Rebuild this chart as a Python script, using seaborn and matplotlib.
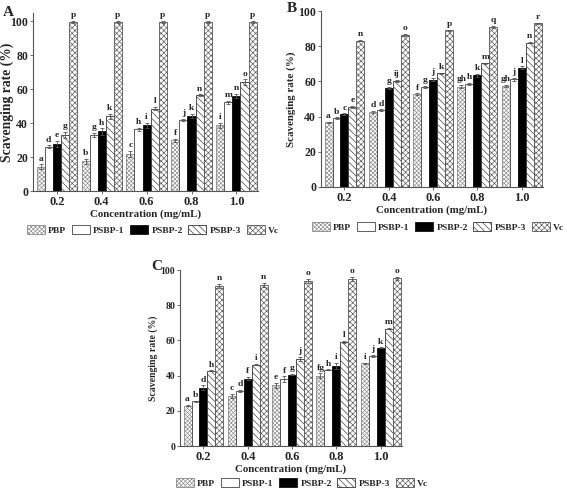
import numpy as np
import pandas as pd
import seaborn as sns
import matplotlib
matplotlib.use("Agg")
import matplotlib.pyplot as plt
from matplotlib.patches import Patch

# ---------------- data ----------------
conc = ["0.2", "0.4", "0.6", "0.8", "1.0"]
samples = ["PBP", "PSBP-1", "PSBP-2", "PSBP-3", "Vc"]

# Panel A  (rows = samples, cols = concentrations)
a_values = [
    [14.3, 17.5, 21.8, 29.8, 38.7],
    [26.2, 33.1, 36.3, 42.0, 52.4],
    [27.8, 35.1, 38.9, 44.4, 56.0],
    [33.0, 44.0, 48.6, 56.5, 64.3],
    [99.6, 99.6, 99.6, 99.6, 99.6],
]
a_errors = [
    [1.5, 1.4, 1.8, 0.8, 1.4],
    [0.8, 1.3, 1.0, 0.5, 0.8],
    [1.6, 1.8, 1.5, 1.2, 1.2],
    [1.8, 1.7, 1.0, 0.6, 1.6],
    [0.6, 0.6, 0.6, 0.6, 0.6],
]
a_letters = [
    ["a", "b", "c", "f", "i"],
    ["d", "g", "h", "j", "m"],
    ["e", "h", "i", "k", "n"],
    ["g", "k", "l", "n", "o"],
    ["p", "p", "p", "p", "p"],
]

# Panel B
b_values = [
    [36.7, 42.7, 52.6, 57.1, 57.5],
    [39.1, 43.5, 56.7, 58.6, 61.2],
    [41.3, 56.3, 60.9, 63.5, 67.7],
    [45.4, 60.1, 64.7, 70.3, 82.0],
    [83.2, 86.4, 89.0, 91.1, 93.0],
]
b_errors = [
    [0.5, 0.7, 0.6, 0.8, 0.5],
    [0.5, 0.6, 0.6, 0.6, 0.7],
    [0.5, 0.6, 0.9, 0.8, 0.8],
    [0.5, 0.7, 0.3, 0.4, 0.4],
    [0.5, 0.6, 0.4, 0.5, 0.4],
]
b_letters = [
    ["a", "d", "f", "gh", "gh"],
    ["b", "d", "g", "h", "j"],
    ["c", "g", "j", "k", "l"],
    ["e", "ij", "k", "m", "n"],
    ["n", "o", "p", "q", "r"],
]

# Panel C
c_values = [
    [23.0, 28.3, 34.5, 39.8, 46.9],
    [25.4, 31.3, 38.1, 43.3, 51.0],
    [33.0, 38.3, 40.6, 45.4, 55.8],
    [42.7, 46.3, 49.5, 59.2, 66.6],
    [90.9, 91.5, 93.6, 94.8, 95.3],
]
c_errors = [
    [0.4, 1.3, 1.3, 1.4, 0.4],
    [0.4, 0.5, 1.5, 0.3, 0.6],
    [1.4, 1.0, 0.5, 1.9, 0.3],
    [0.3, 0.4, 1.2, 0.7, 0.3],
    [1.2, 1.0, 1.2, 1.3, 0.7],
]
c_letters = [
    ["a", "c", "e", "fg", "i"],
    ["b", "d", "f", "h", "j"],
    ["d", "f", "g", "i", "k"],
    ["h", "i", "j", "l", "m"],
    ["n", "n", "o", "o", "o"],
]

# ---------------- style ----------------
sns.set_style("ticks")
plt.rcParams["font.family"] = ["Liberation Serif", "DejaVu Serif"]
plt.rcParams["font.weight"] = "bold"
plt.rcParams["axes.labelweight"] = "bold"
plt.rcParams["hatch.linewidth"] = 0.45

faces = ["white", "white", "black", "white", "white"]
edges = ["#888888", "#444444", "#111111", "#333333", "#555555"]
hatches = ["xxxxxxxx", "", "", "\\\\\\\\\\", "xxxxxx"]

W, H = 567, 491
fig = plt.figure(figsize=(W / 100, H / 100), dpi=100)


def px_axes(left, right, top, bottom):
    return fig.add_axes([left / W, 1 - bottom / H, (right - left) / W, (bottom - top) / H])


def panel(ax, values, errors, letters, ytop, legend_cx, legend_y, label, label_xy,
          ylab_size, ytick_size, ylab_x):
    rows = []
    for i, s in enumerate(samples):
        for j, c in enumerate(conc):
            rows.append({"conc": c, "sample": s, "rate": values[i][j]})
    df = pd.DataFrame(rows)
    sns.barplot(data=df, x="conc", y="rate", hue="sample", order=conc,
                hue_order=samples, width=0.9, gap=0, errorbar=None,
                palette=faces, saturation=1, legend=False, ax=ax)
    bar_conts = list(ax.containers)
    for i, cont in enumerate(bar_conts):
        for j, bar in enumerate(cont):
            bar.set_facecolor(faces[i])
            bar.set_edgecolor(edges[i])
            bar.set_linewidth(0.6)
            bar.set_hatch(hatches[i])
            xc = bar.get_x() + bar.get_width() / 2
            yv = bar.get_height()
            ax.errorbar(xc, yv, yerr=errors[i][j], fmt="none", ecolor="#555555",
                        elinewidth=0.6, capsize=1.5, capthick=0.6, zorder=4)
            ax.text(xc, yv + errors[i][j] + 1.0, letters[i][j], ha="center",
                    va="bottom", fontsize=6.8, fontweight="bold")
    ax.set_ylim(0, ytop)
    ax.set_xlim(-0.53, 4.48)
    ax.set_yticks([0, 20, 40, 60, 80, 100])
    ax.set_xlabel("Concentration (mg/mL)", fontsize=7.8, labelpad=1)
    ax.set_ylabel("Scavenging rate (%)", fontsize=ylab_size)
    bbox = ax.get_position()
    ax.yaxis.set_label_coords((ylab_x / W - bbox.x0) / bbox.width, 0.5)
    ax.tick_params(axis="x", labelsize=9, length=2, width=0.6, pad=1.5,
                   color="#555555")
    ax.tick_params(axis="y", labelsize=ytick_size, length=2, width=0.6, pad=1.5,
                   color="#555555")
    for lab in ax.get_xticklabels() + ax.get_yticklabels():
        lab.set_fontweight("bold")
    sns.despine(ax=ax)
    for sp in ["left", "bottom"]:
        ax.spines[sp].set_linewidth(0.8)
        ax.spines[sp].set_color("#555555")
    handles = [Patch(facecolor=faces[i], edgecolor=edges[i], hatch=hatches[i],
                     linewidth=0.6, label=samples[i]) for i in range(5)]
    fig.legend(handles=handles, loc="center", ncol=5, frameon=False,
               bbox_to_anchor=(legend_cx / W, 1 - legend_y / H),
               handlelength=1.9, handleheight=1.1,
               handletextpad=0.35, columnspacing=0.6, borderpad=0,
               prop={"weight": "bold", "size": 6.8})
    fig.text(label_xy[0] / W, 1 - label_xy[1] / H, label, fontsize=11,
             fontweight="bold", ha="center", va="center")


axA = px_axes(33, 258, 13, 191)
panel(axA, a_values, a_errors, a_letters, 105, 153, 230, "A", (8, 12), 9.8, 8.5, 14)

axB = px_axes(321, 543, 11, 187)
panel(axB, b_values, b_errors, b_letters, 100, 438, 227, "B", (292, 9), 7.8, 8.5, 296)

axC = px_axes(180, 402, 270, 446)
panel(axC, c_values, c_errors, c_letters, 100, 302, 483, "C", (157, 266), 7.0, 7.0, 158)

fig.savefig("out.png", dpi=100)
